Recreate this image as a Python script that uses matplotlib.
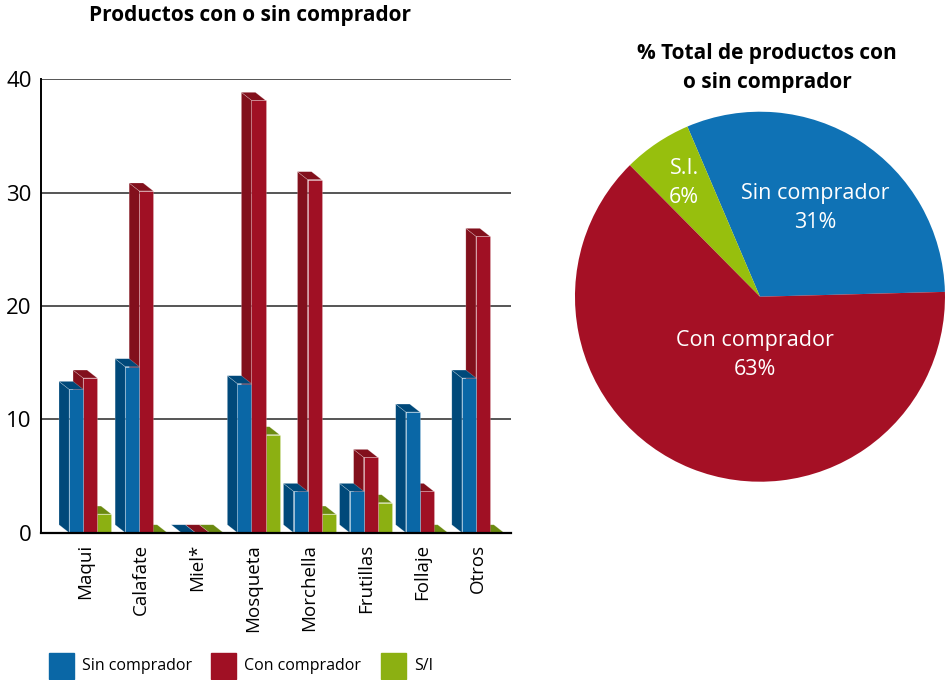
import matplotlib
matplotlib.use("Agg")
import matplotlib.pyplot as plt
from matplotlib.patches import Rectangle

plt.rcParams["font.family"] = ["Open Sans", "DejaVu Sans"]

# --- data ---
categories = ["Maqui", "Calafate", "Miel*", "Mosqueta", "Morchella",
              "Frutillas", "Follaje", "Otros"]
sin_comprador = [13, 15, 0, 13.5, 4, 4, 11, 14]
con_comprador = [14, 30.5, 0, 38.5, 31.5, 7, 4, 26.5]
sin_info = [2, 0, 0, 9, 2, 3, 0, 0]
series_labels = ["Sin comprador", "Con comprador", "S/I"]

pie_labels = ["Sin comprador", "S.I.", "Con comprador"]
pie_values = [31, 6, 63]
y_ticks = [0, 10, 20, 30, 40]

# front / side colours per series
front_colors = ["#0a67a6", "#a01024", "#8cb012"]
side_colors = ["#00497a", "#82101c", "#6b8a10"]
pie_colors = ["#0f72b5", "#97bf0d", "#a51025"]

BAR_W = 0.25          # bar width in group units
DX, DY = -0.18, 0.7   # fake 3D depth offset (x units, y units)


def draw_bar(ax, x0, value, front, side):
    top = max(value - DY / 2, 0)
    # side face (left)
    ax.fill([x0, x0, x0 + DX, x0 + DX], [0, top, top + DY, DY],
            color=side, lw=0.4, ec="#ffffff55")
    # top face
    ax.fill([x0, x0 + BAR_W, x0 + BAR_W + DX, x0 + DX],
            [top, top, top + DY, top + DY], color=side, lw=0.4, ec="#ffffff55")
    # front face
    ax.fill([x0, x0 + BAR_W, x0 + BAR_W, x0], [0, 0, top, top],
            color=front, lw=0.4, ec="#ffffff55")


fig = plt.figure(figsize=(9.46, 6.8), dpi=100)

# ---------------- bar chart ----------------
ax = fig.add_axes([0.0437, 0.2166, 0.4965, 0.6668])
for y in y_ticks[1:]:
    ax.axhline(y, color="#555555", lw=1.4, zorder=0)

series = [sin_comprador, con_comprador, sin_info]
for i in range(len(categories)):
    # right to left so the left bar covers the next one's side face
    for s in (2, 1, 0):
        x0 = i + (s - 1.5) * BAR_W
        draw_bar(ax, x0, series[s][i], front_colors[s], side_colors[s])

ax.set_xlim(-0.87, 7.5)
ax.set_ylim(0, 40)
ax.set_yticks(y_ticks)
ax.set_yticklabels([str(t) for t in y_ticks], fontsize=16)
ax.set_xticks([i + DX / 2 for i in range(len(categories))])
ax.set_xticklabels(categories, rotation=90, fontsize=13.5, va="top")
ax.tick_params(length=0, pad=8)
ax.tick_params(axis="y", pad=7)
for side in ("top", "right"):
    ax.spines[side].set_visible(False)
ax.spines["left"].set_linewidth(1.4)
ax.spines["bottom"].set_linewidth(1.6)

fig.text(250 / 946, 1 - 16 / 680, "Productos con o sin comprador",
         fontsize=15, fontweight="bold", ha="center", va="center")

# legend drawn by hand
leg_x = [49, 211, 381]
for lx, lab, col in zip(leg_x, series_labels, front_colors):
    fig.patches.append(Rectangle((lx / 946, 1 - 679 / 680), 25 / 946, 26 / 680,
                                 transform=fig.transFigure, color=col))
    fig.text((lx + 33) / 946, 1 - 666 / 680, lab, fontsize=11.5, va="center")

# ---------------- pie chart ----------------
pax = fig.add_axes([0.6078, 0.2916, 370 / 946, 370 / 680])
pax.pie(pie_values, colors=pie_colors, startangle=1.5, counterclock=True,
        radius=1, wedgeprops=dict(lw=0))
pax.set_xlim(-1, 1)
pax.set_ylim(-1, 1)
pax.set_aspect("equal")
label_pos = [(0.30, 0.48), (-0.41, 0.615), (-0.027, -0.315)]
for (px, py), lab, val in zip(label_pos, pie_labels, pie_values):
    pax.text(px, py, f"{lab}\n{val}%", color="white", fontsize=15.5,
             ha="center", va="center", linespacing=1.45)
fig.text(767 / 946, 1 - 68 / 680, "% Total de productos con\no sin comprador",
         fontsize=15, fontweight="bold", ha="center", va="center",
         linespacing=1.45)

fig.savefig("out.png", dpi=100)
